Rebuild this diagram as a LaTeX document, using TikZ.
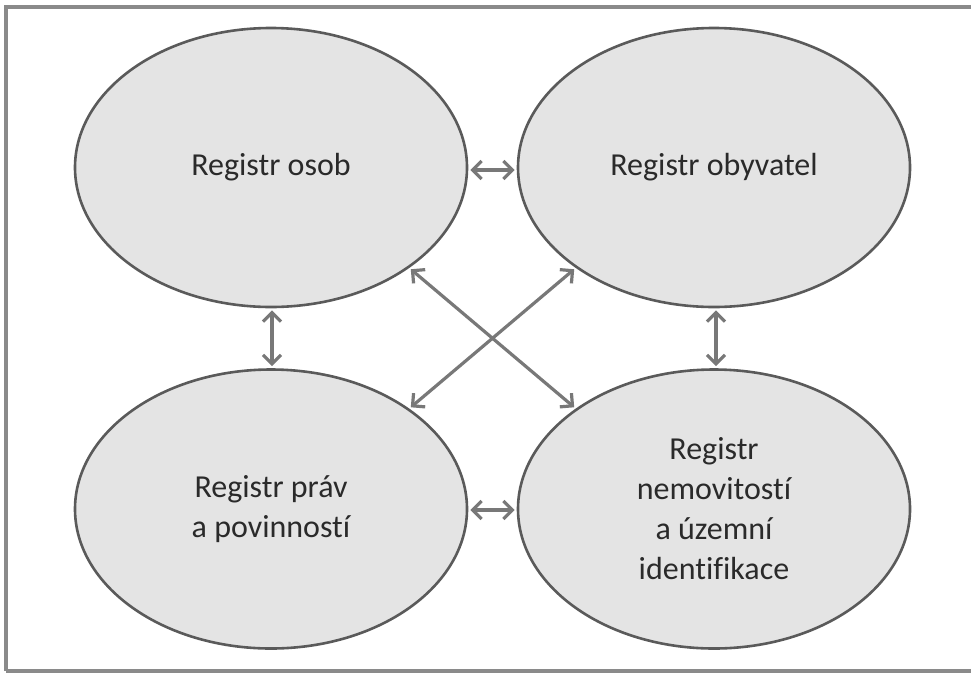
\documentclass[tikz,border=0pt]{standalone}
\usepackage{fontspec}
\setmainfont[Ligatures=NoCommon]{Carlito}
\usetikzlibrary{arrows.meta,shapes.geometric}
\definecolor{framegray}{HTML}{8A8A8A}
\definecolor{ellfill}{HTML}{E4E4E4}
\definecolor{elldraw}{HTML}{5A5A5A}
\definecolor{arrgray}{HTML}{787878}
\definecolor{txtgray}{HTML}{2A2A2A}
\tikzset{
  reg/.style={ellipse, draw=elldraw, fill=ellfill, line width=2.6pt,
    minimum width=392pt, minimum height=279pt, inner sep=0pt,
    align=center, text=txtgray, font=\fontsize{32}{40}\selectfont},
  tip/.tip={Straight Barb[length=9pt,width=18pt,line width=3.2pt]},
  link/.style={draw=arrgray, line width=3.2pt, tip-tip, shorten <=2pt, shorten >=2pt},
  framel/.style={draw=framegray, line width=3.6pt}
}
\begin{document}
\begin{tikzpicture}[x=1pt,y=-1pt]
\useasboundingbox (0,0) rectangle (971,673);
\coordinate (f2) at (6,7);
\coordinate (f3) at (990,7);
\coordinate (f4) at (6,671);
\coordinate (f5) at (990,671);
\begin{scope}
\clip (0,0) rectangle (971,673);
\draw[framel] (f4) -- (f2) -- (f3);
\draw[framel] (f4) -- (f5);
\end{scope}
\node[reg] (os) at (271,167.5) {Registr osob};
\node[reg] (ob) at (714,167.5) {Registr obyvatel};
\node[reg] (pp) at (271,509) {Registr práv\\a povinností};
\node[reg] (nm) at (714,509) {Registr\\nemovitostí\\a územní\\identifikace};
\draw[link] (os.east |- 0,170) -- (ob.west |- 0,170);
\draw[link] (pp.east |- 0,510) -- (nm.west |- 0,510);
\draw[link] (os.south) ++(1,0) coordinate (v1) -- (pp.north -| v1);
\draw[link] (ob.south) ++(2,0) coordinate (v2) -- (nm.north -| v2);
\draw[link] (os.-36) -- (nm.144);
\draw[link] (pp.36) -- (ob.-144);
\end{tikzpicture}
\end{document}
